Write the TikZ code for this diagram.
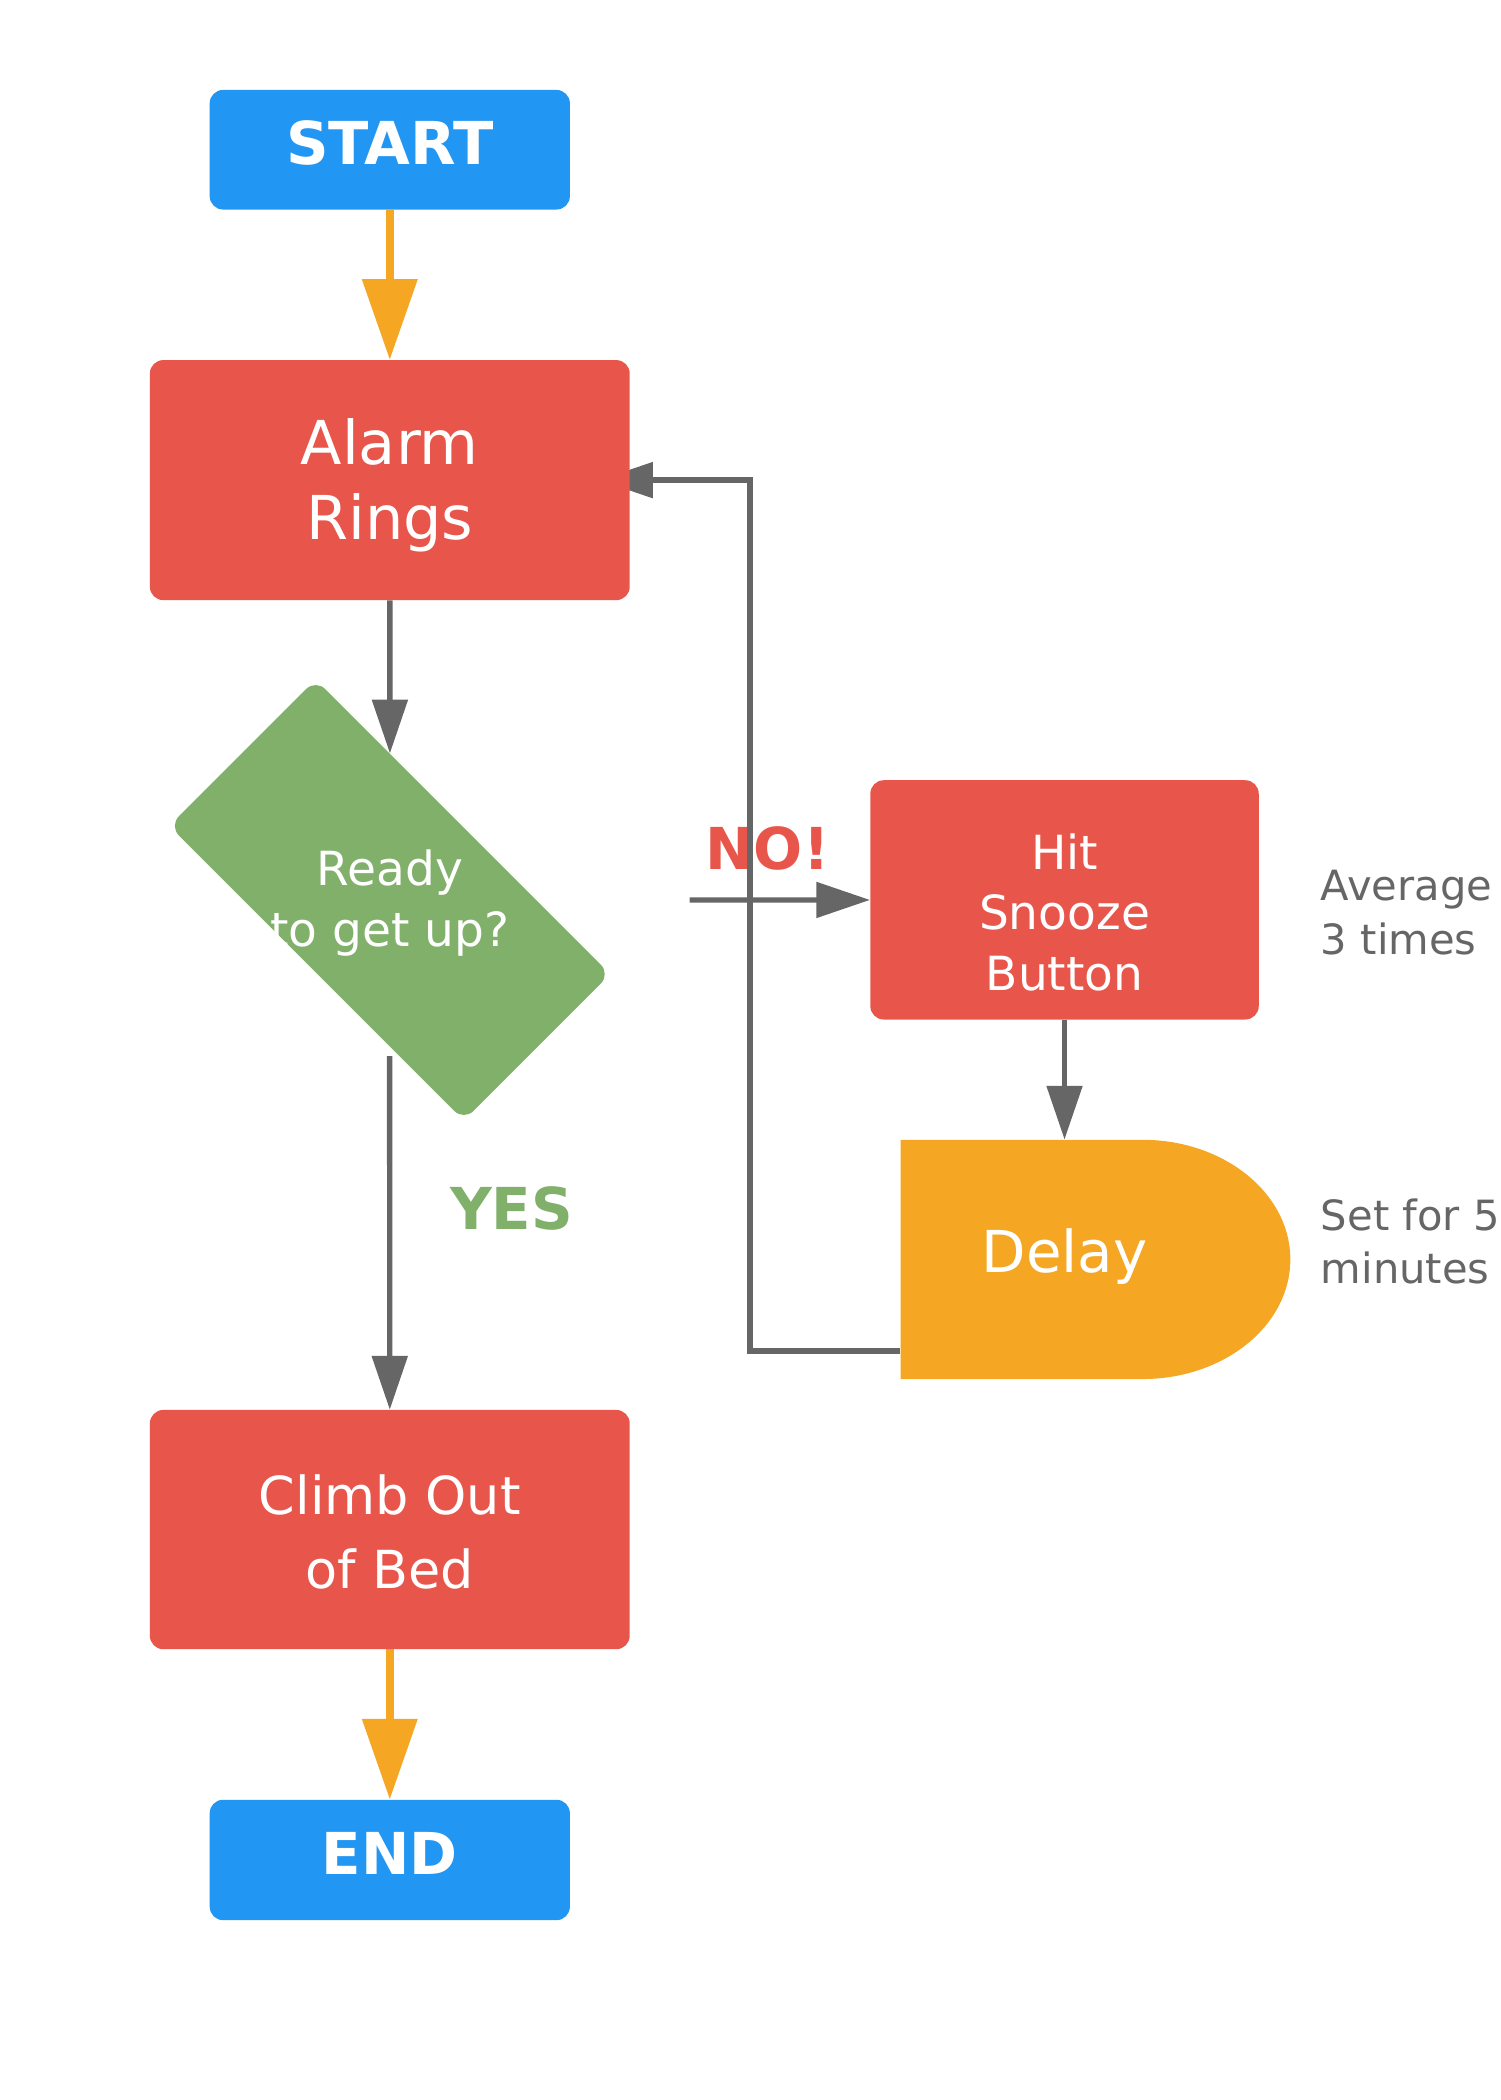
\documentclass[tikz,border=0pt]{standalone}
\usepackage{fontspec}
\setmainfont{DejaVu Sans}
\usetikzlibrary{arrows.meta}
\definecolor{cblue}{HTML}{2196F3}
\definecolor{cred}{HTML}{E8564B}
\definecolor{cgreen}{HTML}{80B06A}
\definecolor{corange}{HTML}{F5A623}
\definecolor{cgray}{HTML}{666666}
\pgfdeclarelayer{labels}
\pgfdeclarelayer{lines}
\pgfsetlayers{labels,lines,main}
\begin{document}
\begin{tikzpicture}[x=1bp,y=-1bp,
  box/.style={rectangle, rounded corners=10bp, inner sep=0pt, text=white, align=center},
  termbox/.style={box, fill=cblue, minimum width=268bp, minimum height=89bp},
  procbox/.style={box, fill=cred},
  grayline/.style={draw=cgray, line width=4bp, -{Triangle[length=40bp,width=26bp]}},
  orangeline/.style={draw=corange, line width=6bp, -{Triangle[length=60bp,width=40bp]}},
  sidetext/.style={anchor=north west, inner sep=0pt, align=left, text=cgray, font=\fontsize{31bp}{40bp}\selectfont},
  branchlabel/.style={anchor=base, inner sep=0pt, font=\fontsize{43bp}{50bp}\selectfont\bfseries}
]
\useasboundingbox (0,0) rectangle (1116,1562.4);

% terminals and processes
\node[termbox, font=\fontsize{44bp}{53bp}\selectfont\bfseries] (start) at (290,111.4)
  {\rule{0pt}{35.9bp}START\rule[-14bp]{0pt}{14bp}};
\node[procbox, minimum width=357bp, minimum height=178.6bp, font=\fontsize{45bp}{56bp}\selectfont] (alarm) at (290,357.2)
  {\rule{0pt}{44.8bp}Alarm\\Rings\rule[-12bp]{0pt}{12bp}};

% decision
\node[rectangle, rounded corners=10bp, fill=cgreen, minimum width=310bp, minimum height=154bp, inner sep=0pt, rotate=-45] (dec) at (290,669.6) {};
\node[align=center, inner sep=0pt, text=white, font=\fontsize{35bp}{45.5bp}\selectfont] (dectext) at (290,669.6)
  {\rule{0pt}{33.8bp}Ready\\to get up?\rule[-10.5bp]{0pt}{10.5bp}};

\node[procbox, minimum width=289bp, minimum height=178bp, font=\fontsize{35bp}{45bp}\selectfont] (snooze) at (792,669.5)
  {\rule{0pt}{54.3bp}Hit\\Snooze\\Button\rule[-10bp]{0pt}{10bp}};

% delay shape
\fill[corange] (670,848) -- (850,848) arc[start angle=-90, end angle=90, x radius=110, y radius=89] -- (670,1026) -- cycle;
\node[box, minimum width=244bp, minimum height=178bp, font=\fontsize{43bp}{50bp}\selectfont] (delay) at (792,937)
  {\rule{0pt}{33.3bp}Delay\rule[-14bp]{0pt}{14bp}};

\node[procbox, minimum width=357bp, minimum height=178bp, font=\fontsize{39bp}{55bp}\selectfont] (climb) at (290,1138)
  {\rule{0pt}{42.4bp}Climb Out\\of Bed\rule[-10bp]{0pt}{10bp}};
\node[termbox, minimum height=89.6bp, font=\fontsize{43bp}{52bp}\selectfont\bfseries] (end) at (290,1383.8)
  {\rule{0pt}{33.7bp}END\rule[-12bp]{0pt}{12bp}};

% side notes and branch labels
\node[sidetext] (avg) at (982.6,638.6) {\rule{0pt}{31bp}Average\\3 times};
\node[sidetext] (setfor) at (982.6,884) {\rule{0pt}{31bp}Set for 5\\minutes};
\node[branchlabel, text=cgreen] (yes) at (380.6,914.6) {YES};
\begin{pgfonlayer}{labels}
\node[branchlabel, text=cred] (no) at (571,647) {NO!};
\end{pgfonlayer}

\coordinate (nostart) at (513,669.6);
\coordinate (loopx) at (558,0);

\begin{pgfonlayer}{lines}
\draw[orangeline] (start) -- (alarm);
\draw[grayline] (alarm) -- (dec);
\draw[grayline, shorten <=7bp] (dec) -- (climb);
\draw[orangeline] (climb) -- (end);
\draw[grayline] (nostart) -- (snooze);
\draw[grayline] (snooze) -- (delay);
\draw[grayline] ([yshift=-68bp]delay.west) -| (loopx |- alarm.east) -- ([xshift=-23bp]alarm.east);
\end{pgfonlayer}
\end{tikzpicture}
\end{document}
